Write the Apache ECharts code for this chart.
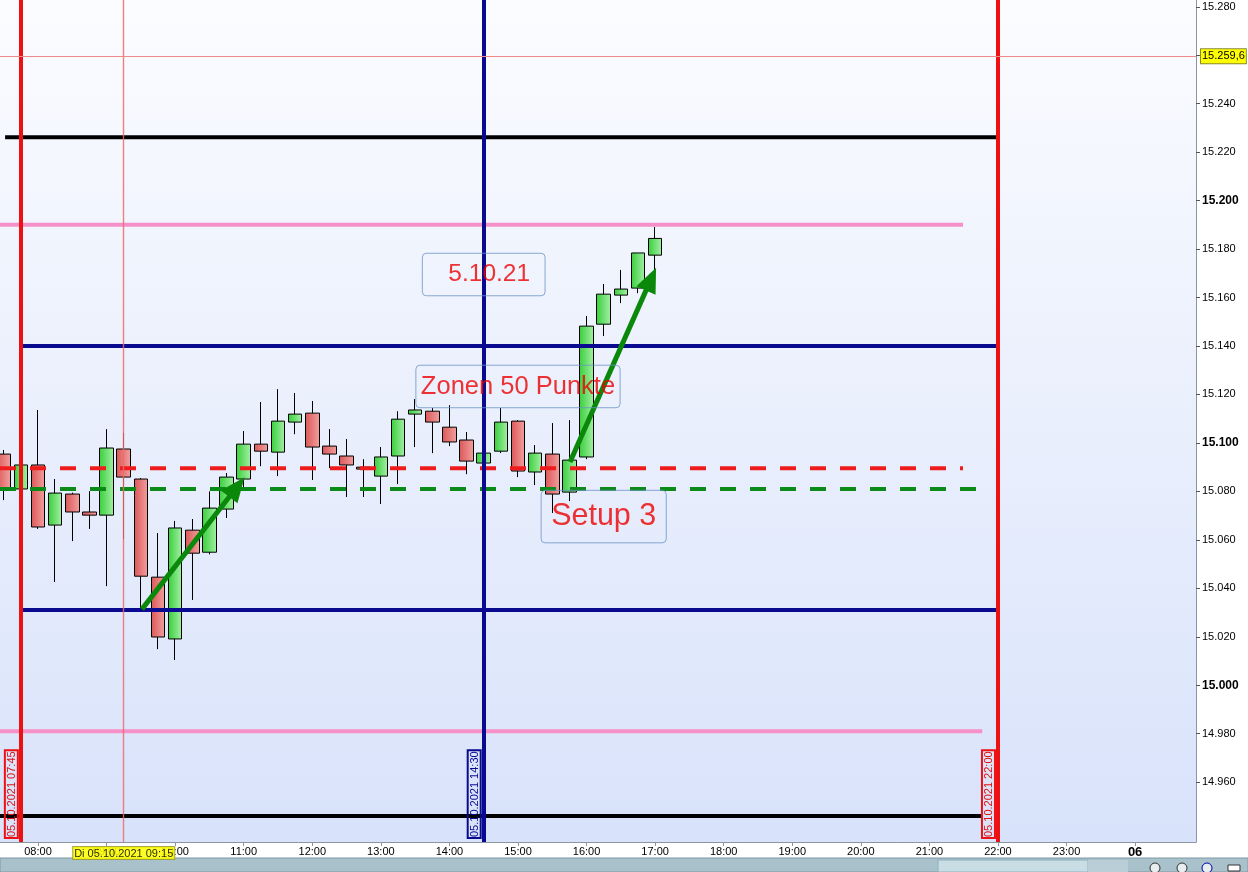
<!DOCTYPE html>
<html><head><meta charset="utf-8">
<script src="https://cdn.jsdelivr.net/npm/echarts@6/dist/echarts.min.js"></script>
<style>html,body{margin:0;padding:0;background:#fff}#c{width:1248px;height:872px}</style>
</head><body><div id="c"></div><script>
// ---------- DATA ----------
const candleTimes = ['07:30','07:45','08:00','08:15','08:30','08:45','09:00','09:15','09:30','09:45',
  '10:00','10:15','10:30','10:45','11:00','11:15','11:30','11:45','12:00','12:15','12:30','12:45',
  '13:00','13:15','13:30','13:45','14:00','14:15','14:30','14:45','15:00','15:15','15:30','15:45',
  '16:00','16:15','16:30','16:45','17:00'];
const opens  = [15095.4,15081.0,15090.9,15066.1,15078.9,15071.5,15070.2,15097.5,15085.1,15044.6,
  15019.1,15064.0,15054.9,15072.7,15085.1,15099.5,15096.2,15108.6,15112.3,15098.7,15094.6,15090.0,
  15086.3,15094.6,15111.9,15113.1,15106.5,15101.2,15091.7,15096.6,15109.0,15088.0,15095.4,15079.7,
  15094.2,15149.0,15161.0,15163.9,15177.5];
const closes = [15080.5,15090.9,15065.3,15079.3,15071.5,15070.2,15097.9,15085.9,15045.0,15019.9,
  15064.9,15054.5,15073.1,15085.9,15099.5,15096.6,15109.0,15111.9,15098.3,15095.4,15090.9,15089.2,
  15094.2,15109.8,15113.6,15108.6,15100.4,15092.5,15095.8,15108.6,15088.4,15095.8,15078.9,15092.9,
  15148.2,15161.4,15163.5,15178.4,15184.4];
const lows   = [15076.4,15080.5,15064.5,15042.6,15059.5,15064.5,15040.9,15060.3,15031.0,15014.9,
  15010.4,15035.2,15054.0,15069.0,15081.8,15090.4,15086.3,15103.6,15084.7,15089.6,15077.7,15077.7,
  15074.8,15083.0,15098.3,15095.8,15098.7,15087.1,15091.5,15095.8,15085.9,15082.6,15071.1,15076.0,
  15093.3,15144.1,15157.7,15161.8,15171.4];
const highs  = [15097.1,15091.7,15113.6,15085.1,15079.5,15080.1,15105.7,15104.1,15085.5,15062.8,
  15067.8,15068.6,15080.0,15087.6,15104.9,15116.9,15122.2,15120.6,15117.3,15105.7,15101.6,15093.3,
  15098.3,15113.1,15118.1,15114.4,15115.6,15104.5,15096.0,15114.4,15109.4,15099.1,15108.2,15109.4,
  15152.4,15165.6,15171.4,15178.4,15189.1];

const yTickValues = [14960,14980,15000,15020,15040,15060,15080,15100,15120,15140,15160,15180,15200,15220,15240,15260,15280];
const yBoldTicks = [15000,15100,15200];
const xTickHours = [8,9,10,11,12,13,14,15,16,17,18,19,20,21,22,23,24];
const xTickLabels = ['08:00','09:00','10:00','11:00','12:00','13:00','14:00','15:00','16:00','17:00','18:00','19:00','20:00','21:00','22:00','23:00','06'];

// horizontal drawing levels (price, from hour, to hour); null = chart edge
const levelPrices = [15226.2, 15190.0, 15140.0, 15089.6, 15081.0, 15031.0, 14981.0, 14946.0];
const levelFrom   = [7.52, null, 7.75, null, null, 7.75, null, null];
const levelTo     = [22.0, 21.49, 22.0, 21.49, 21.77, 22.0, 21.77, 21.77];

// vertical time lines
const vLineTimes  = ['07:45','14:30','22:00'];
const vLineLabels = ['05.10.2021 07:45','05.10.2021 14:30','05.10.2021 22:00'];

// crosshair
const crossTime = '09:15';
const crossTimeLabel = 'Di 05.10.2021 09:15';
const crossPrice = 15259.6;
const crossPriceLabel = '15.259,6';
const lastPrice = 15184.4;
const lastPriceLabel = '15.184,4';

// text notes (centre time in hours, centre price)
const noteTexts  = ['5.10.21','Zonen 50 Punkte','Setup 3'];
const noteHours  = [14.5, 15.0, 16.25];
const notePrices = [15169.5, 15123.3, 15069.6];

// arrows
const arrowFromH = [9.517, 15.759];
const arrowFromP = [15031.4, 15092.1];
const arrowToH   = [10.90, 16.94];
const arrowToP   = [15081.8, 15167.6];

// axis ranges
const xMin = 7.4458, xMax = 24.888;
const yMin = 14935.3, yMax = 15282.8;

// ---------- STYLES ----------
const levelColors = ['#000000','#f590c9','#0a0a90','#ee1c1c','#0c8a18','#0a0a90','#f590c9','#000000'];
const levelDashed = [false,false,false,true,true,false,false,false];
const vLineColors = ['#ee1111','#0a0a90','#ee1111'];
const noteFont = [24.5,25.5,30.5];
const notePad = [[9,15,9,26],[8.5,5,8.5,5],[11,10,11,10]];
const FONT = '"Liberation Sans", Arial, sans-serif';

const toH = t => { const p = t.split(':').map(Number); return p[0] + p[1] / 60; };
const fmtNum = v => { const s = String(Math.round(v)); return s.slice(0, s.length - 3) + '.' + s.slice(-3); };

const greenGrad = {type:'linear',x:0,y:0,x2:1,y2:0,colorStops:[{offset:0,color:'#36cf3a'},{offset:1,color:'#a6efa6'}]};
const redGrad = {type:'linear',x:0,y:0,x2:1,y2:0,colorStops:[{offset:0,color:'#da5656'},{offset:1,color:'#f3a0a0'}]};

const series = [];

series.push({
  type: 'candlestick', z: 2, silent: true, animation: false,
  data: candleTimes.map((t, i) => [toH(t), opens[i], closes[i], lows[i], highs[i]]),
  encode: { x: 0, y: [1, 2, 3, 4] },
  barWidth: 14,
  itemStyle: { color: greenGrad, color0: redGrad, borderColor: '#000', borderColor0: '#000', borderColorDoji: '#000', borderWidth: 1 }
});

levelPrices.forEach((p, i) => {
  series.push({
    type: 'line', z: 3, silent: true, animation: false, symbol: 'none',
    data: [[levelFrom[i] == null ? xMin : levelFrom[i], p], [levelTo[i] == null ? xMax : levelTo[i], p]],
    lineStyle: { color: levelColors[i], width: 4, type: levelDashed[i] ? [16, 14] : 'solid', cap: 'butt' }
  });
});

// vertical lines + crosshair + price labels as markLines
const mlData = [];
vLineTimes.forEach((t, i) => {
  mlData.push([
    { coord: [toH(t), yMin], lineStyle: { color: vLineColors[i], width: 4, type: 'solid' },
      label: { show: true, position: 'insideStartTop', distance: [4, 3], formatter: vLineLabels[i],
        color: vLineColors[i] === '#ee1111' ? '#dd1111' : '#0a0a90', fontSize: 11, fontFamily: FONT,
        padding: [1, 1, 0, 1], lineHeight: 12, borderColor: vLineColors[i], borderWidth: 1, backgroundColor: 'rgba(0,0,0,0)' } },
    { coord: [toH(t), yMax] }
  ]);
});
mlData.push([
  { coord: [toH(crossTime), yMin], lineStyle: { color: '#f06a6a', width: 1.4, type: 'solid', opacity: 0.85 },
    label: { show: true, position: 'start', distance: 5, formatter: crossTimeLabel, color: '#000', fontSize: 11, fontFamily: FONT,
      padding: [1, 1, 0, 1], backgroundColor: '#ffff00', borderColor: '#9a9a2a', borderWidth: 1 } },
  { coord: [toH(crossTime), yMax] }
]);
mlData.push([
  { coord: [xMin, crossPrice], lineStyle: { color: '#f08a8a', width: 1, type: 'solid' },
    label: { show: true, position: 'end', distance: 5, formatter: crossPriceLabel, color: '#000', fontSize: 11, fontFamily: FONT,
      padding: [2, 1, 1, 1], backgroundColor: '#ffff00', borderColor: '#8a8a30', borderWidth: 1 } },
  { coord: [xMax, crossPrice] }
]);
mlData.push([
  { coord: [xMin, lastPrice], lineStyle: { color: '#000', width: 0, opacity: 0 },
    label: { show: true, position: 'end', distance: 5, formatter: lastPriceLabel, color: '#000', fontSize: 11, fontFamily: FONT,
      padding: [2, 1, 1, 1], backgroundColor: '#f7c800', borderColor: '#8a6a00', borderWidth: 1 } },
  { coord: [xMax, lastPrice] }
]);

series.push({
  type: 'line', z: 4, silent: true, animation: false, data: [],
  markLine: { silent: true, animation: false, symbol: ['none', 'none'], precision: 4, data: mlData }
});

// arrows
series.push({
  type: 'line', z: 5, silent: true, animation: false, data: [],
  markLine: {
    silent: true, animation: false, symbol: ['none', 'triangle'], symbolSize: [21, 25],
    lineStyle: { color: '#0a880a', width: 5, type: 'solid' },
    itemStyle: { color: '#0a880a' },
    label: { show: false },
    data: arrowFromH.map((h, i) => [{ coord: [h, arrowFromP[i]] }, { coord: [arrowToH[i], arrowToP[i]] }])
  }
});

// notes
series.push({
  type: 'scatter', z: 6, silent: true, animation: false, symbolSize: 1,
  itemStyle: { color: 'rgba(0,0,0,0)' },
  data: noteTexts.map((t, i) => ({
    value: [noteHours[i], notePrices[i]], name: t,
    label: { show: true, position: 'inside', formatter: t, color: '#ee0000', fontSize: noteFont[i], lineHeight: noteFont[i],
      fontFamily: FONT, padding: notePad[i], borderColor: '#6b93c7', borderWidth: 1, borderRadius: 4 }
  }))
});

const chart = echarts.init(document.getElementById('c'), null, { renderer: 'canvas' });
chart.setOption({
  animation: false,
  backgroundColor: '#ffffff',
  textStyle: { fontFamily: FONT },
  grid: {
    left: 0, right: 52, top: 0, bottom: 30, show: true, borderWidth: 0, outerBoundsMode: 'none',
    backgroundColor: { type: 'linear', x: 0, y: 0, x2: 0, y2: 1, colorStops: [{ offset: 0, color: '#fbfcff' }, { offset: 1, color: '#d8e2fa' }] }
  },
  xAxis: {
    type: 'value', min: xMin, max: xMax,
    axisLine: { show: true, lineStyle: { color: '#8a97a3', width: 1 } },
    axisTick: { show: true, length: 4, lineStyle: { color: '#8a97a3' }, customValues: xTickHours },
    axisLabel: {
      show: true, customValues: xTickHours, margin: 4, color: '#000', fontSize: 11, fontFamily: FONT,
      formatter: v => { const i = xTickHours.indexOf(Math.round(v)); const s = xTickLabels[i]; return i === xTickHours.length - 1 ? '{b|' + s + '}' : s; },
      rich: { b: { fontWeight: 'bold', fontSize: 13, color: '#000', fontFamily: FONT } }
    },
    splitLine: { show: false }
  },
  yAxis: {
    type: 'value', position: 'right', min: yMin, max: yMax, scale: true,
    axisLine: { show: true, lineStyle: { color: '#8a97a3', width: 1 } },
    axisTick: { show: true, length: 4, lineStyle: { color: '#555' }, customValues: yTickValues },
    axisLabel: {
      show: true, customValues: yTickValues, margin: 6, color: '#000', fontSize: 11, fontFamily: FONT,
      formatter: v => { const s = fmtNum(v); return yBoldTicks.indexOf(Math.round(v)) >= 0 ? '{b|' + s + '}' : s; },
      rich: { b: { fontWeight: 'bold', fontSize: 12, color: '#000', fontFamily: FONT } }
    },
    splitLine: { show: false }
  },
  graphic: [
    { type: 'rect', silent: true, shape: { x: 0, y: 858, width: 1248, height: 14 }, style: { fill: '#a8c1cb', stroke: '#7f9aa6', lineWidth: 1 } },
    { type: 'rect', silent: true, shape: { x: 938, y: 860, width: 150, height: 12 }, style: { fill: '#c9dde5', stroke: '#8fb0bc', lineWidth: 1 } },
    { type: 'rect', silent: true, shape: { x: 1088, y: 860, width: 40, height: 12 }, style: { fill: '#b9ced6' } },
    { type: 'circle', silent: true, shape: { cx: 1155, cy: 868, r: 5 }, style: { fill: '#e8eef0', stroke: '#333', lineWidth: 1 } },
    { type: 'circle', silent: true, shape: { cx: 1182, cy: 868, r: 5 }, style: { fill: '#e8eef0', stroke: '#333', lineWidth: 1 } },
    { type: 'circle', silent: true, shape: { cx: 1207, cy: 868, r: 5 }, style: { fill: '#e8eef0', stroke: '#00a', lineWidth: 1 } },
    { type: 'rect', silent: true, shape: { x: 1228, y: 865, width: 12, height: 6 }, style: { fill: '#fff', stroke: '#333', lineWidth: 1 } }
  ],
  series: series
});
</script></body></html>
